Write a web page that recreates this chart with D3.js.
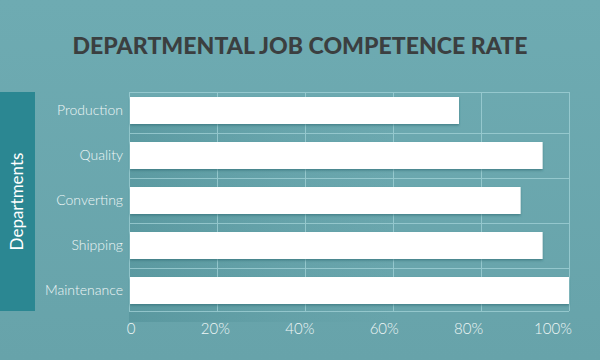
<!DOCTYPE html>
<html>
<head>
<meta charset="utf-8">
<script src="https://cdn.jsdelivr.net/npm/d3@7"></script>
<style>
  html, body { margin: 0; padding: 0; background: #6ba7ae; }
  svg { display: block; }
</style>
</head>
<body>
<svg id="chart" width="600" height="360"></svg>
<script>
const categories = ["Production", "Quality", "Converting", "Shipping", "Maintenance"];
const values = [75, 94, 89, 94, 100];
const tickValues = [0, 20, 40, 60, 80, 100];
const tickLabels = ["0", "20%", "40%", "60%", "80%", "100%"];
const titleText = "DEPARTMENTAL JOB COMPETENCE RATE";
const axisTitle = "Departments";

const svg = d3.select("#chart");
const W = 600, H = 360;
const plot = { left: 129, right: 569, top: 88, bottom: 313 };

const defs = svg.append("defs");
const bg = defs.append("linearGradient").attr("id", "bg").attr("x1", 0).attr("y1", 0).attr("x2", 0).attr("y2", 1);
bg.append("stop").attr("offset", "0%").attr("stop-color", "#6eabb2");
bg.append("stop").attr("offset", "100%").attr("stop-color", "#67a3aa");
const sh = defs.append("linearGradient").attr("id", "shade").attr("x1", 0).attr("y1", 0).attr("x2", 1).attr("y2", 0);
sh.append("stop").attr("offset", "0%").attr("stop-color", "#3f8189").attr("stop-opacity", 0.55);
sh.append("stop").attr("offset", "60%").attr("stop-color", "#3f8189").attr("stop-opacity", 0.15);
sh.append("stop").attr("offset", "100%").attr("stop-color", "#3f8189").attr("stop-opacity", 0);
const f = defs.append("filter").attr("id", "ds").attr("x", "-5%").attr("y", "-20%").attr("width", "110%").attr("height", "160%");
f.append("feDropShadow").attr("dx", 0).attr("dy", 1.5).attr("stdDeviation", 1.2).attr("flood-color", "#2f6a71").attr("flood-opacity", 0.6);

svg.append("rect").attr("width", W).attr("height", H).attr("fill", "url(#bg)");

const x = d3.scaleLinear().domain([0, 100]).range([plot.left, plot.right]);
const xLabel = d3.scaleLinear().domain([0, 100]).range([131, 553]);
const y = d3.scaleBand().domain(categories).range([plot.top, plot.bottom]).paddingInner(0.4).paddingOuter(0.2);

// title
svg.append("text")
  .attr("x", 300).attr("y", 54)
  .attr("text-anchor", "middle")
  .attr("font-family", "Lato, 'Open Sans', sans-serif")
  .attr("font-weight", 900)
  .attr("font-size", 23)
  .attr("fill", "#3b3f40")
  .attr("textLength", 455)
  .attr("lengthAdjust", "spacingAndGlyphs")
  .text(titleText);

// left panel
const gapY = y.step() * y.paddingInner() / 2;
const topLine = y(categories[0]) - 5;
const bottomLine = y(categories[categories.length - 1]) + y.bandwidth() + 7;
svg.append("rect").attr("x", 0).attr("y", topLine).attr("width", 35).attr("height", bottomLine - topLine)
  .attr("fill", "#2b8792");
svg.append("text")
  .attr("transform", `translate(23,${(topLine + bottomLine) / 2}) rotate(-90)`)
  .attr("text-anchor", "middle")
  .attr("font-family", "Lato, sans-serif")
  .attr("font-weight", 400)
  .attr("font-size", 17)
  .attr("fill", "#ffffff")
  .text(axisTitle);

// shading under bars
svg.append("g").selectAll("rect").data(categories).join("rect")
  .attr("x", plot.left)
  .attr("y", d => y(d) + y.bandwidth())
  .attr("width", (plot.right - plot.left) * 0.6)
  .attr("height", gapY * 2)
  .attr("fill", "url(#shade)")
  .attr("opacity", 0.6);

// grid
const grid = svg.append("g").attr("stroke", "#a3d3d8").attr("stroke-width", 1).attr("opacity", 0.75);
grid.selectAll("line.v").data(tickValues).join("line")
  .attr("x1", d => x(d) + 0.5).attr("x2", d => x(d) + 0.5)
  .attr("y1", topLine).attr("y2", bottomLine);
const hLines = [topLine].concat(categories.slice(1).map(c => y(c) - gapY)).concat([bottomLine]);
grid.selectAll("line.h").data(hLines).join("line")
  .attr("x1", plot.left).attr("x2", plot.right)
  .attr("y1", d => Math.round(d) + 0.5).attr("y2", d => Math.round(d) + 0.5);

// bars
svg.append("g").selectAll("rect").data(values).join("rect")
  .attr("x", x(0) + 1)
  .attr("y", (d, i) => y(categories[i]))
  .attr("width", d => x(d) - x(0) - 1)
  .attr("height", y.bandwidth())
  .attr("fill", "#ffffff")
  .attr("filter", "url(#ds)");

// category labels
svg.append("g").selectAll("text").data(categories).join("text")
  .attr("x", 123)
  .attr("y", d => y(d) + y.bandwidth() / 2)
  .attr("dy", "0.35em")
  .attr("text-anchor", "end")
  .attr("font-family", "Lato, sans-serif")
  .attr("font-weight", 300)
  .attr("font-size", 14)
  .attr("fill", "#eef6f6")
  .text(d => d);

// x tick labels
svg.append("g").selectAll("text").data(tickValues).join("text")
  .attr("x", d => xLabel(d))
  .attr("y", 334)
  .attr("text-anchor", "middle")
  .attr("font-family", "Lato, sans-serif")
  .attr("font-weight", 300)
  .attr("font-size", 15)
  .attr("fill", "#eef6f6")
  .text((d, i) => tickLabels[i]);
</script>
</body>
</html>
